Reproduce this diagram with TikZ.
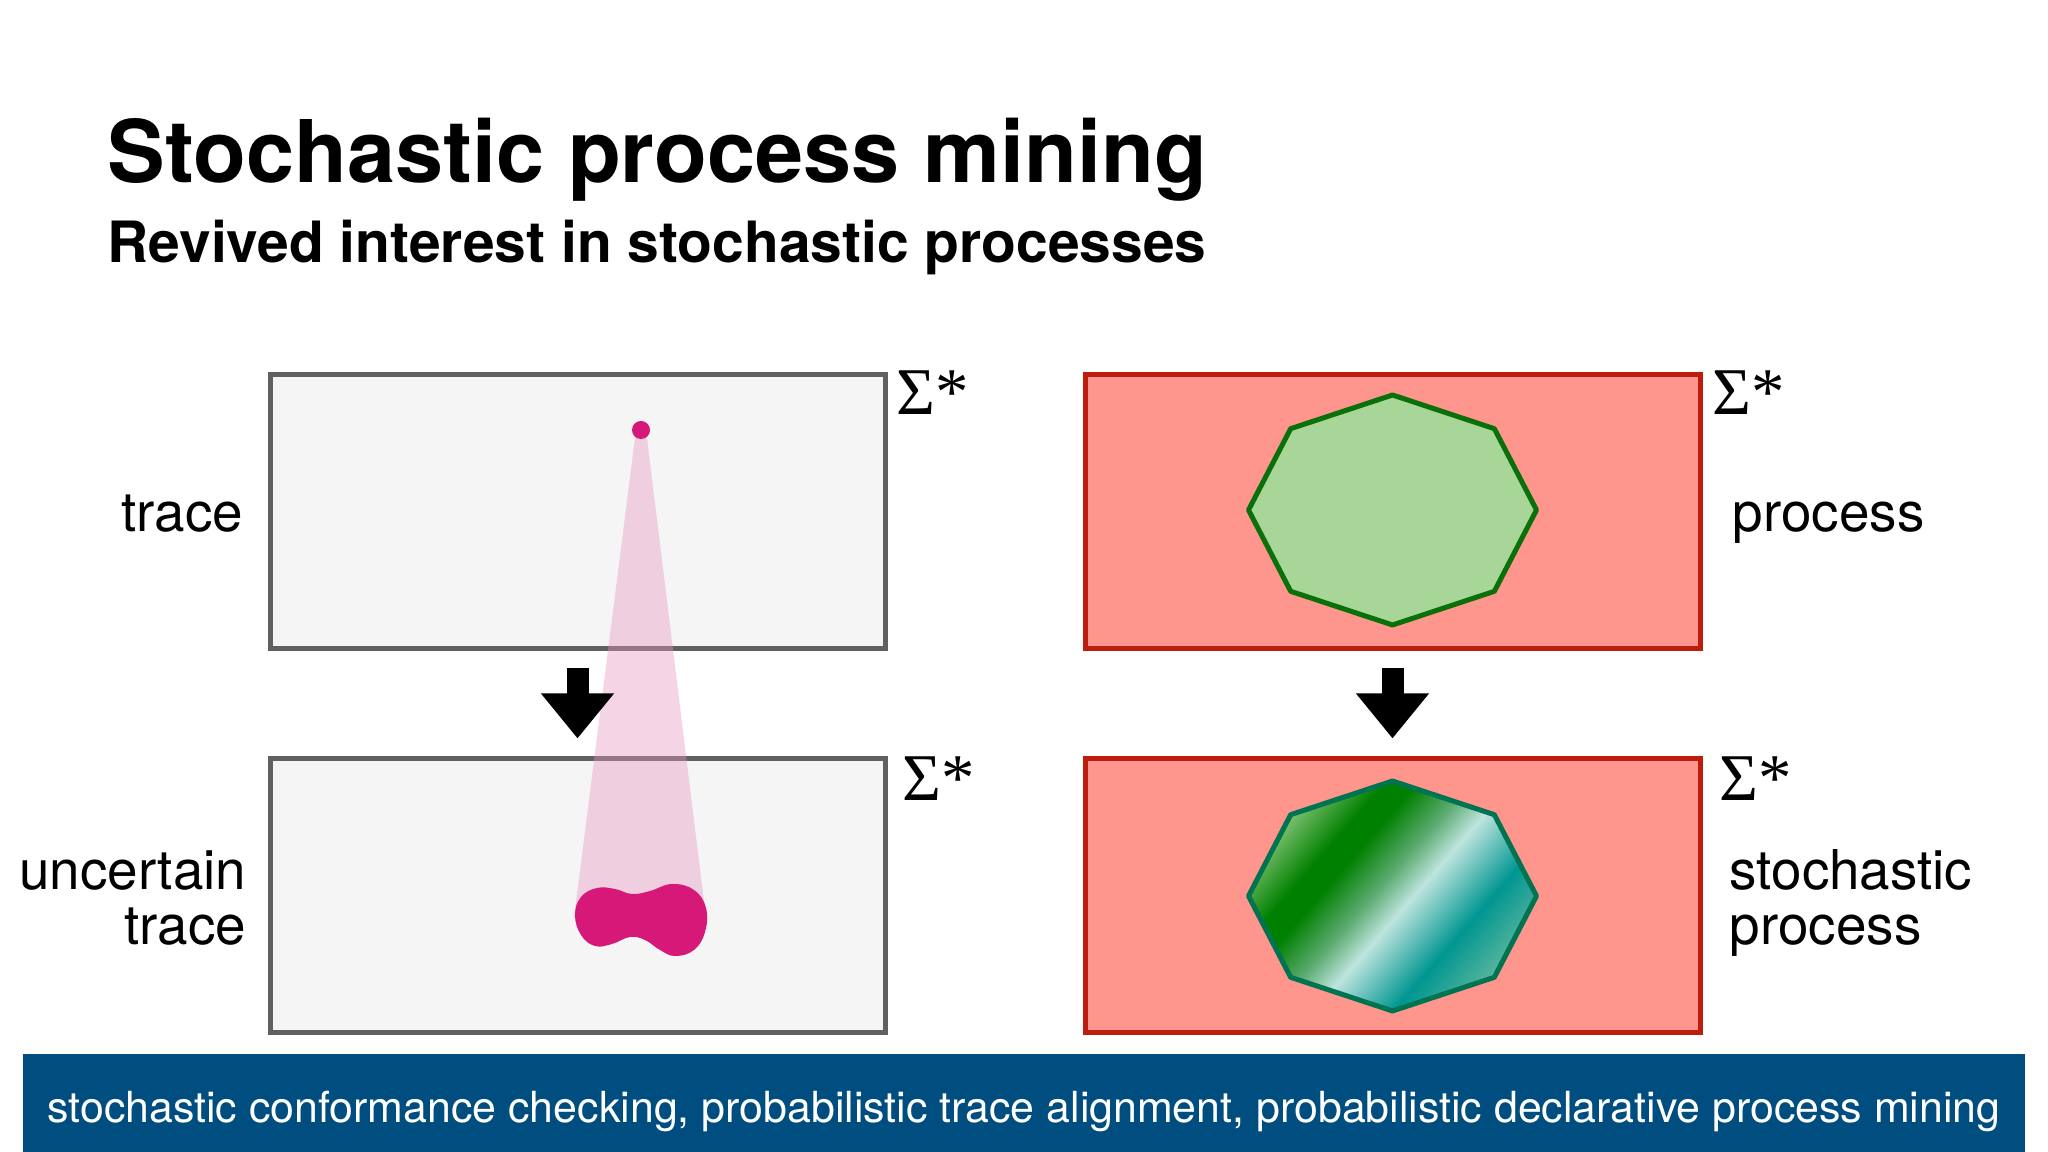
\documentclass[tikz,border=0pt]{standalone}
\usepackage{fontspec}
\setmainfont{TeX Gyre Heros}
\newfontfamily\sigmafont{Liberation Serif}
\usetikzlibrary{arrows.meta}

\definecolor{boxgray}{RGB}{245,245,245}
\definecolor{edgegray}{RGB}{96,96,96}
\definecolor{boxred}{RGB}{255,150,142}
\definecolor{edgered}{RGB}{190,28,12}
\definecolor{octgreen}{RGB}{168,214,152}
\definecolor{octedge}{RGB}{10,112,10}
\definecolor{stochedge}{RGB}{0,115,80}
\definecolor{blobpink}{RGB}{214,25,120}
\definecolor{conepink}{RGB}{232,150,190}
\definecolor{bannerblue}{RGB}{0,78,128}
\definecolor{sgA}{RGB}{140,200,125}
\definecolor{sgB}{RGB}{0,128,0}
\definecolor{sgC}{RGB}{90,170,110}
\definecolor{sgD}{RGB}{190,228,222}
\definecolor{sgE}{RGB}{0,150,145}
\definecolor{sgF}{RGB}{100,185,160}

\pgfdeclarehorizontalshading{stochband}{100bp}{color(0bp)=(sgA); color(33bp)=(sgA);
  color(40bp)=(sgB); color(43bp)=(sgB); color(48bp)=(sgC); color(52bp)=(sgD);
  color(59.5bp)=(sgE); color(67bp)=(sgF); color(100bp)=(sgF)}

\newcommand\titlesize{\fontsize{24.6}{30}\selectfont\bfseries}
\newcommand\subsize{\fontsize{16.2}{20}\selectfont\bfseries}
\newcommand\lblsize{\fontsize{15.6}{15.65}\selectfont}

\begin{document}
\begin{tikzpicture}[x=0.1mm, y=-0.1mm,
  graybox/.style={draw=edgegray, fill=boxgray, line width=0.5mm, minimum width=61.5mm, minimum height=27.4mm, inner sep=0},
  redbox/.style={graybox, draw=edgered, fill=boxred},
  sigma/.style={anchor=base west, inner sep=0, font=\sigmafont\fontsize{19}{19}\selectfont},
  lbl/.style={inner sep=0, font=\lblsize},
  octa/.style={line width=0.5mm, line join=round},
  block/.style={line width=2.2mm, -{Triangle[width=7mm, length=4.5mm]}, shorten <=1.7mm, shorten >=1.8mm},
  cone/.style={fill=conepink, fill opacity=0.4},
  banner/.style={fill=bannerblue, text=white, minimum width=200.2mm, minimum height=9.8mm, inner sep=0,
    text height=4.7mm, text depth=0.9mm, font=\fontsize{12.2}{14}\selectfont}]

\useasboundingbox (0,0) rectangle (2048,1152);
\fill[white] (0,0) rectangle (2048,1152);

\node[anchor=base west, inner sep=0, font=\titlesize] (title) at (107,183) {Stochastic process mining};
\node[anchor=base west, inner sep=0, font=\subsize] (subtitle) at (107,263) {Revived interest in stochastic processes};

\node[graybox] (trace) at (577.5,511.5) {};
\node[graybox] (utrace) at (577.5,896) {};
\node[redbox] (proc) at (1392.5,511.5) {};
\node[redbox] (sproc) at (1392.5,896) {};

\node[sigma] (sig1) at (896,415) {Σ*};
\node[sigma] (sig2) at (902,801) {Σ*};
\node[sigma] (sig3) at (1712,415) {Σ*};
\node[sigma] (sig4) at (1719,801) {Σ*};

\node[lbl, anchor=base east] (tracelbl) at (244,532) {trace};
\node[lbl, anchor=base east, align=right] (utracelbl) at (247,945) {uncertain\\trace};
\node[lbl, anchor=base west] (proclbl) at (1732,532) {process};
\node[lbl, anchor=base west, align=left] (sproclbl) at (1729,945) {stochastic\\process};

\coordinate (pnet) at (1392.5,510);
\coordinate (snet) at (1392.5,896);

\draw[octa, draw=octedge, fill=octgreen, shift={(pnet)}] (0:144 and 115)
  \foreach \a in {45,90,...,315} {-- (\a:144 and 115)} -- cycle;

\begin{scope}
  \clip[shift={(snet)}] (0:144 and 115) \foreach \a in {45,90,...,315} {-- (\a:144 and 115)} -- cycle;
  \shade[shading=stochband, shading angle=-41] ([shift={(-200,-200)}]snet) rectangle ([shift={(200,200)}]snet);
\end{scope}
\draw[octa, draw=stochedge, shift={(snet)}] (0:144 and 115)
  \foreach \a in {45,90,...,315} {-- (\a:144 and 115)} -- cycle;

\coordinate (src) at (641,430);
\fill[cone] ([xshift=-0.5mm]src) -- ([xshift=0.5mm]src) -- (706,918) -- (574,918) -- cycle;

\draw[block] (trace) -- (utrace);
\draw[block] (proc) -- (sproc);

\fill[blobpink] plot[smooth cycle, tension=0.7] coordinates {(575,915) (581,897) (597,888) (615,889)
  (632,894) (650,891) (672,884) (694,890) (706,908) (705,932) (694,950) (675,956) (660,950)
  (645,940) (630,937) (612,944) (595,946) (581,935)};
\node[circle, fill=blobpink, minimum size=1.8mm, inner sep=0] (dot) at (src) {};

\node[banner] (band) at (1024,1103) {stochastic conformance checking, probabilistic trace alignment, probabilistic declarative process mining};

\end{tikzpicture}
\end{document}
